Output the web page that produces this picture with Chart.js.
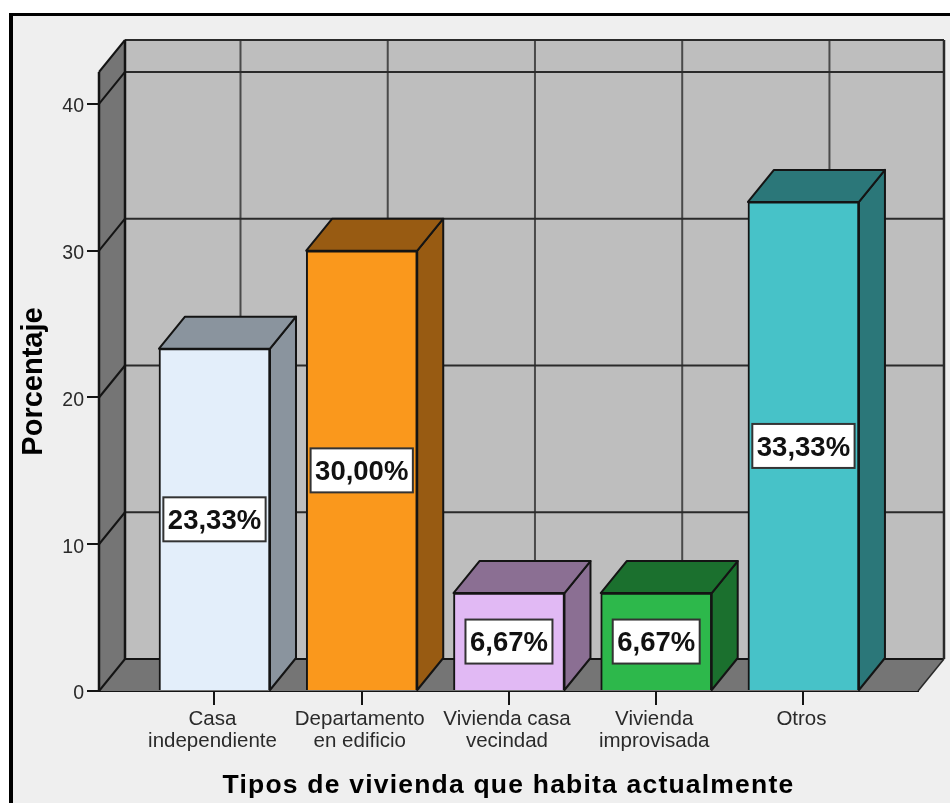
<!DOCTYPE html>
<html lang="es">
<head>
<meta charset="utf-8">
<title>Tipos de vivienda</title>
<style>html,body{margin:0;padding:0;background:#fff}canvas{display:block}</style>
<script src="https://cdn.jsdelivr.net/npm/chart.js@4"></script>
</head>
<body>
<div style="width:950px;height:803px"><canvas id="c" width="950" height="803"></canvas></div>
<script>
const categories = [["Casa","independiente"],["Departamento","en edificio"],["Vivienda casa","vecindad"],["Vivienda","improvisada"],["Otros"]];
const percentages = [23.33, 30.00, 6.67, 6.67, 33.33];
const frontColors = ["#E3EEFA","#FA981C","#E1B9F4","#2DB84B","#47C2C8"];
const shadeColors = ["#8A949E","#985B12","#8B6F93","#1B702E","#2B7779"];
const yTicks = [0,10,20,30,40];

const DEPTH_X = 26, DEPTH_Y = -32;
const INK = "#141414";
const FONT = "'Liberation Sans', Arial, sans-serif";

function poly(ctx, pts, fill, stroke, lw){
  ctx.beginPath();
  pts.forEach((p,i)=> i ? ctx.lineTo(p[0],p[1]) : ctx.moveTo(p[0],p[1]));
  ctx.closePath();
  if (fill){ ctx.fillStyle = fill; ctx.fill(); }
  if (stroke){ ctx.strokeStyle = stroke; ctx.lineWidth = lw; ctx.lineJoin = "round"; ctx.stroke(); }
}
function seg(ctx, x1,y1,x2,y2, color, lw){
  ctx.beginPath(); ctx.moveTo(x1,y1); ctx.lineTo(x2,y2);
  ctx.strokeStyle = color; ctx.lineWidth = lw; ctx.stroke();
}

// Panel behind the whole figure, with its heavy frame
const panel = {
  id: "panel",
  beforeDraw(chart){
    const {ctx,width,height} = chart;
    ctx.save();
    ctx.fillStyle = "#fff"; ctx.fillRect(0,0,width,height);
    ctx.fillStyle = "#000"; ctx.fillRect(9,13,width-9,height-13);
    ctx.fillStyle = "#EFEFEF"; ctx.fillRect(13,16,width-13,height-16);
    ctx.restore();
  }
};

// Walls, floor and grid of the box, drawn from the chart's scales
const box = {
  id: "box",
  beforeDatasetsDraw(chart){
    const {ctx,chartArea:a,scales:{x,y}} = chart;
    const L=a.left,R=a.right,T=a.top,B=a.bottom,dx=DEPTH_X,dy=DEPTH_Y;
    ctx.save();
    poly(ctx,[[L+dx,T+dy],[R+dx,T+dy],[R+dx,B+dy],[L+dx,B+dy]],"#BEBEBE");
    poly(ctx,[[L,T],[L+dx,T+dy],[L+dx,B+dy],[L,B]],"#757575");
    poly(ctx,[[L,B],[L+dx,B+dy],[R+dx,B+dy],[R,B]],"#757575");
    // depth grid on the back wall
    x.ticks.forEach(t=>{
      const px=x.getPixelForValue(t.value)+dx;
      seg(ctx,px,T+dy,px,B+dy,"#4A4A4A",2);
    });
    yTicks.forEach(v=>{
      const py=y.getPixelForValue(v);
      seg(ctx,L,py,L+dx,py+dy,INK,2);
      if (v>0) seg(ctx,L+dx,py+dy,R+dx,py+dy,"#2A2A2A",2);
    });
    // top of the back wall edge and the frame of the box
    seg(ctx,L+dx,T+dy,R+dx,T+dy,"#2A2A2A",2);
    seg(ctx,L+dx,T,R+dx,T,"#2A2A2A",2);
    seg(ctx,L+dx,B+dy,R+dx,B+dy,INK,2);
    seg(ctx,L+dx,T+dy,L+dx,B+dy,INK,2.5);
    seg(ctx,R+dx,T+dy,R+dx,B+dy,"#2A2A2A",2.5);
    seg(ctx,L,T,L+dx,T+dy,INK,2);
    seg(ctx,L,T,L,B,INK,2.5);
    seg(ctx,R,B,R+dx,B+dy,"#2A2A2A",1.5);
    // right and top faces of each bar
    chart.getDatasetMeta(0).data.forEach((el,i)=>{
      const p=el.getProps(["x","y","base","width"]);
      const l=p.x-p.width/2,r=p.x+p.width/2;
      poly(ctx,[[r,p.y],[r+dx,p.y+dy],[r+dx,p.base+dy],[r,p.base]],shadeColors[i],INK,2);
      poly(ctx,[[l,p.y],[l+dx,p.y+dy],[r+dx,p.y+dy],[r,p.y]],shadeColors[i],INK,2);
    });
    ctx.restore();
  }
};

// Boxed percentage written on the front of each bar
const valueBoxes = {
  id: "valueBoxes",
  afterDatasetsDraw(chart){
    const {ctx} = chart;
    ctx.save();
    ctx.font = "bold 27.5px "+FONT;
    ctx.textAlign = "center"; ctx.textBaseline = "middle";
    chart.getDatasetMeta(0).data.forEach((el,i)=>{
      const p=el.getProps(["x","y","base"]);
      const cy=(p.y+p.base)/2;
      const txt=percentages[i].toFixed(2).replace(".",",")+"%";
      const w=ctx.measureText(txt).width+9,h=44;
      ctx.fillStyle="#fff"; ctx.fillRect(p.x-w/2,cy-h/2,w,h);
      ctx.strokeStyle="#333"; ctx.lineWidth=2; ctx.strokeRect(p.x-w/2,cy-h/2,w,h);
      ctx.fillStyle="#111"; ctx.fillText(txt,p.x,cy+2);
    });
    ctx.restore();
  }
};

// The horizontal axis title is set with slightly open tracking
function trackTitle(scale){
  if (scale.$tracked) return;
  scale.$tracked = true;
  const draw = scale.drawTitle;
  scale.drawTitle = function(area){
    const ctx = this.ctx;
    ctx.save();
    ctx.letterSpacing = "1.2px";
    draw.call(this, area);
    ctx.restore();
  };
}

new Chart(document.getElementById("c"),{
  type:"bar",
  data:{
    labels:categories,
    datasets:[{
      data:percentages.map((v,i)=>({x:i+1,y:v})),
      backgroundColor:frontColors,
      borderColor:INK,
      borderWidth:2,
      barThickness:111
    }]
  },
  plugins:[panel,box,valueBoxes],
  options:{
    responsive:false,
    animation:false,
    layout:{padding:{left:17,right:32,top:72,bottom:1}},
    plugins:{legend:{display:false},tooltip:{enabled:false}},
    scales:{
      x:{
        type:"linear",
        offset:false,
        min:0.2156,max:5.778,
        grid:{offset:false,display:true,drawOnChartArea:false,drawTicks:true,tickLength:14,color:INK,lineWidth:2},
        border:{display:true,color:INK,width:2},
        ticks:{
          stepSize:1,includeBounds:false,autoSkip:false,maxRotation:0,
          color:"#2a2a2a",padding:3,labelOffset:-2,
          font:{family:FONT,size:20.5,lineHeight:1.08},
          callback:v=>categories[v-1]
        },
        title:{display:true,text:"Tipos de vivienda que habita actualmente",color:"#000",
          font:{family:FONT,size:26.5,weight:"bold"},padding:{top:6,bottom:0}},
        afterFit(s){ s.height=111; trackTitle(s); }
      },
      y:{
        type:"linear",
        min:0,max:42.18,
        grid:{display:true,drawOnChartArea:false,drawTicks:true,tickLength:12,color:INK,lineWidth:2},
        border:{display:false},
        ticks:{stepSize:10,includeBounds:false,color:"#2a2a2a",padding:3,labelOffset:3,
          font:{family:FONT,size:19.5}},
        title:{display:true,text:"Porcentaje",color:"#000",
          font:{family:FONT,size:29,weight:"bold"},padding:{top:0,bottom:0}},
        afterFit(s){ s.width=82; }
      }
    }
  }
});
</script>
</body>
</html>
